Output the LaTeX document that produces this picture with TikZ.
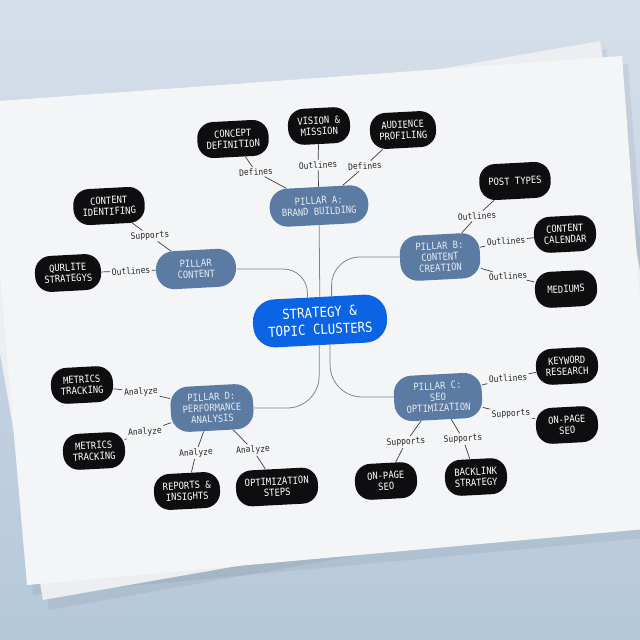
\documentclass[tikz,border=0pt]{standalone}
\usepackage{fontspec}
\setmonofont[FakeStretch=0.9]{DejaVu Sans Mono}
\usepackage{tikz}
\definecolor{DeskTop}{RGB}{213,223,234}
\definecolor{DeskBottom}{RGB}{181,200,218}
\definecolor{PaperWhite}{RGB}{244,245,247}
\definecolor{PaperBack}{RGB}{236,238,242}
\definecolor{HubBlue}{RGB}{11,100,228}
\definecolor{PillarBlue}{RGB}{92,123,163}
\definecolor{PillarText}{RGB}{228,235,243}
\definecolor{LeafBlack}{RGB}{14,14,16}
\definecolor{LinkGray}{RGB}{62,62,66}
\definecolor{TrunkGray}{RGB}{128,131,136}

\begin{document}
\begin{tikzpicture}[x=0.025cm,y=-0.025cm,
  hub/.style={fill=HubBlue,text=white,rounded corners=0.55cm,minimum width=3.35cm,minimum height=1.2cm,align=center,font=\fontsize{9.8}{12.2}\selectfont\ttfamily,rotate=3},
  pillar/.style={fill=PillarBlue,text=PillarText,rounded corners=0.45cm,minimum width=2cm,minimum height=0.95cm,inner xsep=0.3cm,inner ysep=0.2cm,align=center,font=\fontsize{7}{7.8}\selectfont\ttfamily,rotate=3},
  leaf/.style={fill=LeafBlack,text=white,rounded corners=0.4cm,minimum width=1.55cm,minimum height=0.9cm,inner xsep=0.225cm,inner ysep=0.2cm,align=center,font=\fontsize{7}{7.8}\selectfont\ttfamily,rotate=3},
  rel/.style={fill=PaperWhite,text=black!85,inner sep=1pt,font=\fontsize{6.3}{6.6}\selectfont\ttfamily,rotate=3},
  link/.style={draw=LinkGray,line width=0.5pt},
  trunk/.style={draw=TrunkGray,line width=0.55pt,rounded corners=0.7cm}]
\useasboundingbox (0,0) rectangle (640,640);
\clip (0,0) rectangle (640,640);
% desk and paper sheets
\shade[top color=DeskTop,bottom color=DeskBottom] (0,0) rectangle (640,640);
\fill[black,opacity=0.05] (-31,160) -- (606,49) -- (686,497) -- (49,610) -- cycle;
\fill[black,opacity=0.05] (-11,110) -- (628,64) -- (665,536) -- (33,595) -- cycle;
\fill[PaperBack] (-35,152) -- (600,41) -- (678,489) -- (43,600) -- cycle;
\fill[PaperWhite] (-15,102) -- (622,56) -- (657,528) -- (27,585) -- cycle;

% hub and pillars
\node[hub] (c) at (320,321) {STRATEGY \&\\TOPIC CLUSTERS};
\node[pillar] (pa) at (319,206) {PILLAR A:\\BRAND BUILDING};
\node[pillar] (pk) at (196,269) {PILLAR\\CONTENT};
\node[pillar] (pb) at (440,257) {PILLAR B:\\CONTENT\\CREATION};
\node[pillar] (pd) at (212,408) {PILLAR D:\\PERFORMANCE\\ANALYSIS};
\node[pillar] (pc) at (438,397) {PILLAR C:\\SEO\\OPTIMIZATION};

% leaves
\node[leaf] (concept) at (233,139) {CONCEPT\\DEFINITION};
\node[leaf] (vision) at (319,126) {VISION \&\\MISSION};
\node[leaf] (audience) at (403,130) {AUDIENCE\\PROFILING};
\node[leaf] (ident) at (109,206) {CONTENT\\IDENTIFING};
\node[leaf] (qurlite) at (68,273) {QURLITE\\STRATEGYS};
\node[leaf] (posts) at (515,181) {POST TYPES};
\node[leaf] (calendar) at (565,234) {CONTENT\\CALENDAR};
\node[leaf] (mediums) at (566,289) {MEDIUMS};
\node[leaf] (keyword) at (567,366) {KEYWORD\\RESEARCH};
\node[leaf] (onpageR) at (567,425) {ON-PAGE\\SEO};
\node[leaf] (onpageB) at (386,481) {ON-PAGE\\SEO};
\node[leaf] (backlink) at (476,477) {BACKLINK\\STRATEGY};
\node[leaf] (metricsA) at (82,385) {METRICS\\TRACKING};
\node[leaf] (metricsB) at (94,451) {METRICS\\TRACKING};
\node[leaf] (reports) at (187,491) {REPORTS \&\\INSIGHTS};
\node[leaf] (optsteps) at (277,487) {OPTIMIZATION\\STEPS};

% relation labels
\node[rel] (la1) at (256,172) {Defines};
\node[rel] (la2) at (318,165) {Outlines};
\node[rel] (la3) at (365,166) {Defines};
\node[rel] (lb1) at (477,216) {Outlines};
\node[rel] (lb2) at (506,241) {Outlines};
\node[rel] (lb3) at (508,276) {Outlines};
\node[rel] (lk1) at (150,236) {Supports};
\node[rel] (lk2) at (131,271) {Outlines};
\node[rel] (lc1) at (508,378) {Outlines};
\node[rel] (lc2) at (511,414) {Supports};
\node[rel] (lc3) at (406,442) {Supports};
\node[rel] (lc4) at (463,439) {Supports};
\node[rel] (ld1) at (141,392) {Analyze};
\node[rel] (ld2) at (145,432) {Analyze};
\node[rel] (ld3) at (196,453) {Analyze};
\node[rel] (ld4) at (253,450) {Analyze};

% hub to pillars
\draw[trunk] (c) -- (pa);
\draw[trunk,rounded corners=0.6cm] (c.115) |- (pk);
\draw[trunk] (c.62) |- (pb);
\draw[trunk,rounded corners=0.8cm] (c.265) |- (pd);
\draw[trunk,rounded corners=0.8cm] (c.290) |- (pc);

% pillars to leaves
\draw[link] (pa) -- (la1) (la1) -- (concept);
\draw[link] (pa) -- (la2) (la2) -- (vision);
\draw[link] (pa) -- (la3) (la3) -- (audience);
\draw[link] (pb) -- (lb1) (lb1) -- (posts);
\draw[link] (pb) -- (lb2) (lb2) -- (calendar);
\draw[link] (pb) -- (lb3) (lb3) -- (mediums);
\draw[link] (pk) -- (lk1) (lk1) -- (ident);
\draw[link] (pk) -- (lk2) (lk2) -- (qurlite);
\draw[link] (pc) -- (lc1) (lc1) -- (keyword);
\draw[link] (pc) -- (lc2) (lc2) -- (onpageR);
\draw[link] (pc) -- (lc3) (lc3) -- (onpageB);
\draw[link] (pc) -- (lc4) (lc4) -- (backlink);
\draw[link] (pd) -- (ld1) (ld1) -- (metricsA);
\draw[link] (pd) -- (ld2) (ld2) -- (metricsB);
\draw[link] (pd) -- (ld3) (ld3) -- (reports);
\draw[link] (pd) -- (ld4) (ld4) -- (optsteps);
\end{tikzpicture}
\end{document}
